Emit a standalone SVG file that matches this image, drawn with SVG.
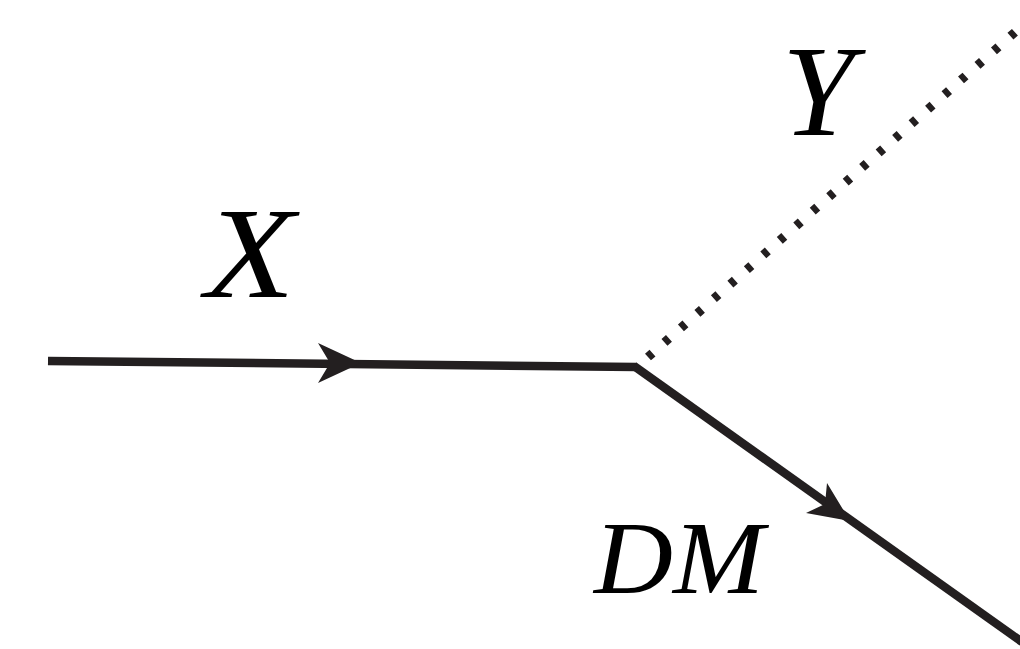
<svg xmlns="http://www.w3.org/2000/svg" width="1020" height="649" viewBox="0 0 1020 649">
<style>
.lbl{font-family:"Liberation Serif","Times New Roman",serif;font-style:italic;fill:#000}
.solid{stroke:#231f20;stroke-width:8.5;fill:none}
.dot{stroke:#231f20;stroke-width:9;fill:none;stroke-dasharray:6 16}
.head{fill:#231f20}
</style>
<rect width="1020" height="649" fill="#fff"/>
<g id="connectors">
<line class="solid" x1="48" y1="361" x2="637" y2="367"/>
<polygon class="head" points="361,363 318,343 330,363 318,383"/>
<line class="dot" x1="648" y1="357" x2="1022" y2="26"/>
<line class="solid" x1="634" y1="366" x2="1022" y2="642"/>
<polygon class="head" points="850,521 827,483 825,504 806,513"/>
</g>
<g id="node-X"><text class="lbl" x="205" y="297" font-size="130" textLength="90" lengthAdjust="spacingAndGlyphs">X</text></g>
<g id="node-Y"><text class="lbl" x="782" y="135" font-size="130">Y</text></g>
<g id="node-DM"><text class="lbl" x="594" y="593" font-size="103" textLength="170" lengthAdjust="spacingAndGlyphs">DM</text></g>
</svg>
